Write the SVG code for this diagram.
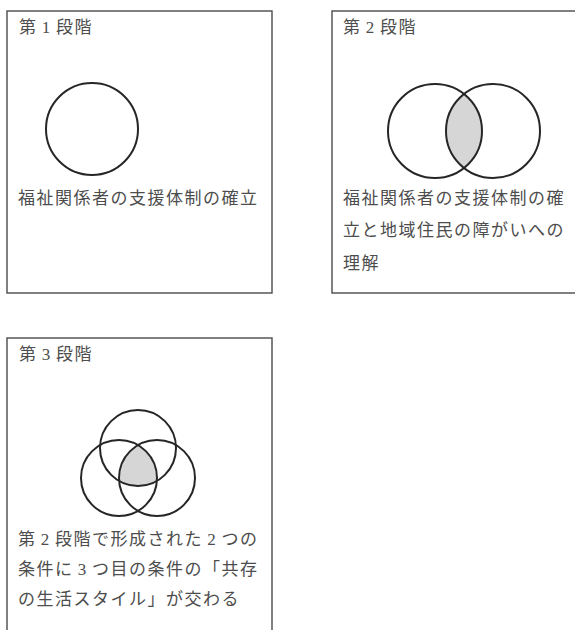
<svg xmlns="http://www.w3.org/2000/svg" width="575" height="630" viewBox="0 0 575 630">
  <style>
    .frame { fill: none; stroke: #4a4a4a; stroke-width: 1.4; }
    .ring { fill: none; stroke: #262626; stroke-width: 2; }
    .shade { fill: #d6d6d6; stroke: none; }
    text { font-family: "Liberation Serif", "Noto Sans CJK JP", serif; font-size: 17px; fill: #4d4d4d; letter-spacing: 1.5px; }
  </style>
  <defs>
    <clipPath id="c2L"><circle cx="435" cy="131" r="47"/></clipPath>
    <clipPath id="c3L"><circle cx="119" cy="478" r="38"/></clipPath>
    <clipPath id="c3R"><circle cx="157" cy="478" r="38"/></clipPath>
  </defs>
  <rect x="0" y="0" width="575" height="630" fill="#ffffff"/>

  <g id="stage1">
    <rect class="frame" x="7" y="11" width="265" height="282"/>
    <text x="19" y="33">第<tspan dx="4.25">1</tspan><tspan dx="4.25">段階</tspan></text>
    <circle class="ring" cx="92" cy="129" r="46"/>
    <text x="18" y="204">福祉関係者の支援体制の確立</text>
  </g>

  <g id="stage2">
    <rect class="frame" x="332" y="11" width="260" height="282"/>
    <text x="343" y="33">第<tspan dx="4.25">2</tspan><tspan dx="4.25">段階</tspan></text>
    <circle class="shade" cx="493" cy="131" r="47" clip-path="url(#c2L)"/>
    <circle class="ring" cx="435" cy="131" r="47"/>
    <circle class="ring" cx="493" cy="131" r="47"/>
    <text x="343" y="204">福祉関係者の支援体制の確</text>
    <text x="343" y="236">立と地域住民の障がいへの</text>
    <text x="343" y="269">理解</text>
  </g>

  <g id="stage3">
    <rect class="frame" x="7" y="338" width="265" height="310"/>
    <text x="19" y="360">第<tspan dx="4.25">3</tspan><tspan dx="4.25">段階</tspan></text>
    <g clip-path="url(#c3L)">
      <circle class="shade" cx="138" cy="448" r="38" clip-path="url(#c3R)"/>
    </g>
    <circle class="ring" cx="138" cy="448" r="38"/>
    <circle class="ring" cx="119" cy="478" r="38"/>
    <circle class="ring" cx="157" cy="478" r="38"/>
    <text x="18" y="545">第<tspan dx="4.25">2</tspan><tspan dx="4.25">段階で形成された</tspan><tspan dx="4.25">2</tspan><tspan dx="4.25">つの</tspan></text>
    <text x="18" y="575">条件に<tspan dx="4.25">3</tspan><tspan dx="4.25">つ目の条件の「共存</tspan></text>
    <text x="18" y="605">の生活スタイル」が交わる</text>
  </g>

  <g id="connectors"></g>
</svg>
